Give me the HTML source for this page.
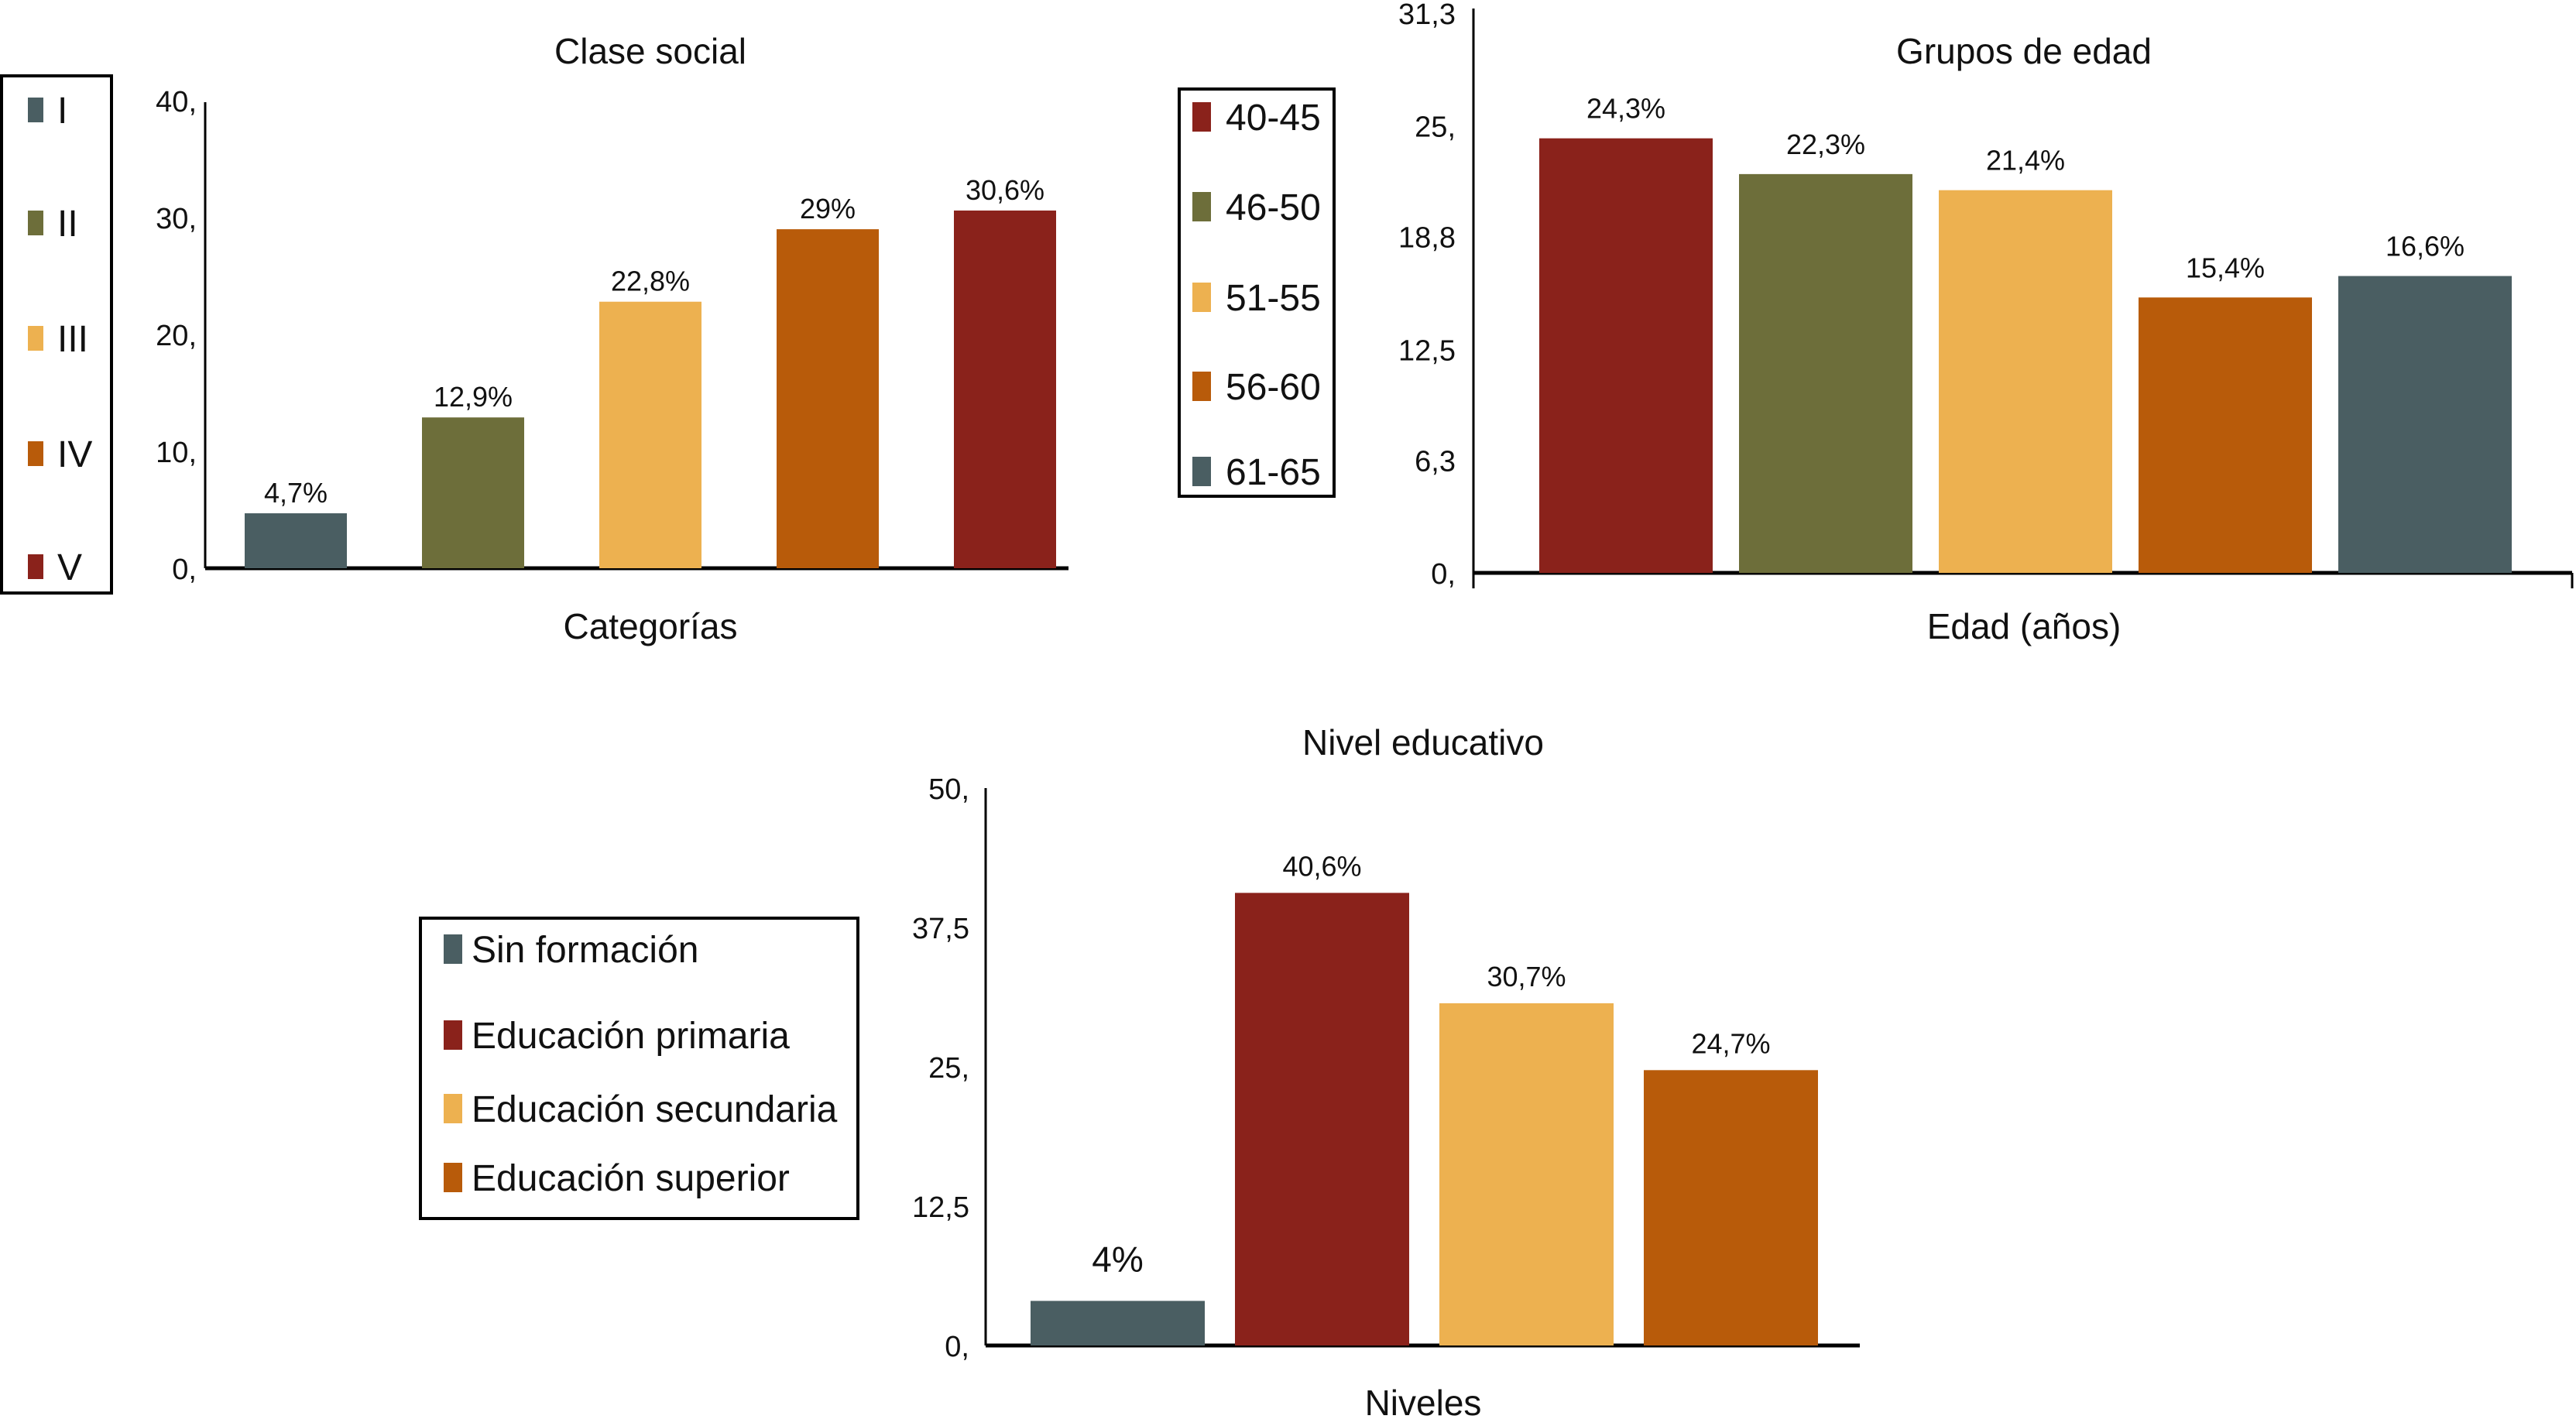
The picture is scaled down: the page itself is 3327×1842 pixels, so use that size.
<!DOCTYPE html>
<html><head><meta charset="utf-8"><style>
html,body{margin:0;padding:0;background:#fff;}
svg{display:block;font-family:"Liberation Sans",sans-serif;}
</style></head><body>
<svg id="s" width="3327" height="1842" viewBox="0 0 3327 1842" xmlns="http://www.w3.org/2000/svg"></svg>
<script>
const C = {slate:'#4a5e62', olive:'#6d6e3a', yellow:'#edb150', orange:'#b85b0a', red:'#8a221b'};
// Chart 1: Clase social
const c1Cats = ['I','II','III','IV','V'];
const c1Vals = [4.7,12.9,22.8,29,30.6];
const c1Labels = ['4,7%','12,9%','22,8%','29%','30,6%'];
const c1Ticks = [0,10,20,30,40];
const c1TickLabels = ['0,','10,','20,','30,','40,'];
// Chart 2: Grupos de edad
const c2Cats = ['40-45','46-50','51-55','56-60','61-65'];
const c2Vals = [24.3,22.3,21.4,15.4,16.6];
const c2Labels = ['24,3%','22,3%','21,4%','15,4%','16,6%'];
const c2Ticks = [0,6.3,12.5,18.8,25,31.3];
const c2TickLabels = ['0,','6,3','12,5','18,8','25,','31,3'];
// Chart 3: Nivel educativo
const c3Cats = ['Sin formación','Educación primaria','Educación secundaria','Educación superior'];
const c3Vals = [4,40.6,30.7,24.7];
const c3Labels = ['4%','40,6%','30,7%','24,7%'];
const c3Ticks = [0,12.5,25,37.5,50];
const c3TickLabels = ['0,','12,5','25,','37,5','50,'];

const svg = document.getElementById('s');
const NS = 'http://www.w3.org/2000/svg';
function mk(tag, attrs, parent){
  const e = document.createElementNS(NS, tag);
  for (const k in attrs) e.setAttribute(k, attrs[k]);
  (parent||svg).appendChild(e);
  return e;
}
function txt(x,y,s,size,anchor,parent){
  const t = mk('text',{x:x,y:y,'font-size':size,'text-anchor':anchor||'middle',fill:'#111'},parent);
  t.textContent = s;
  return t;
}

function chart(o){
  const g = mk('g',{});
  
  
  const y = v => o.base - v*o.unit;
  const ya = mk('line',{x1:o.ax,y1:o.top,x2:o.ax,y2:o.base+o.tickDown,stroke:'#000','stroke-width':3},g);
  
  
  const xa = mk('line',{x1:o.ax,y1:o.base,x2:o.right,y2:o.base,stroke:'#000','stroke-width':5},g);
  
  
  if (o.rightTick){ mk('line',{x1:o.right,y1:o.base,x2:o.right,y2:o.base+o.tickDown,stroke:'#000','stroke-width':3},g); }
  o.ticks.forEach((v,i)=>{
    const t = txt(o.tickX, y(v)+14, o.tickLabels[i], 38, 'end', g);
    
    
  });
  o.vals.forEach((v,i)=>{
    const x = o.x0 + i*o.step;
    const r = mk('rect',{x:x,y:y(v),width:o.bw,height:o.base-y(v),fill:o.colors[i]},g);
    
    
    const big = o.labels[i].length <= 2;
    const t = txt(x+o.bw/2, y(v)-o.lblOff-(big?16:0), o.labels[i], big?46:36, 'middle', g);
    
    
  });
  const ti = txt(o.titleX, o.titleY, o.title, 46, 'middle', g);
  
  
  const xt = txt(o.titleX, o.xTitleY, o.xTitle, 46, 'middle', g);
  
  
  const L = o.legend;
  const lg = mk('g',{},g);
  
  
  mk('rect',{x:L.x,y:L.y,width:L.w,height:L.h,fill:'none',stroke:'#000','stroke-width':4},lg);
  L.items.forEach((it,i)=>{
    const cy = L.ys[i];
    const e = mk('g',{},lg);
    
    
    mk('rect',{x:L.sx,y:cy-L.sh/2,width:L.sw,height:L.sh,fill:it.c},e);
    txt(L.tx, cy+17, it.t, L.fs, 'start', e);
  });
}

chart({name:'clase-social-chart', cats:c1Cats, vals:c1Vals, labels:c1Labels, ticks:c1Ticks, tickLabels:c1TickLabels,
  colors:[C.slate,C.olive,C.yellow,C.orange,C.red],
  ax:265, top:132, base:734, right:1380, unit:15.1, tickDown:0, rightTick:false, tickX:254,
  x0:316, step:229, bw:132, lblOff:14,
  title:'Clase social', titleX:840, titleY:82, xTitle:'Categorías', xTitleY:825,
  legend:{x:2,y:98,w:142,h:668,sx:36,sw:20,sh:32,tx:74,fs:48,ys:[142,288,437,586,732],
    items:[{t:'I',c:C.slate},{t:'II',c:C.olive},{t:'III',c:C.yellow},{t:'IV',c:C.orange},{t:'V',c:C.red}]}
});

chart({name:'grupos-de-edad-chart', cats:c2Cats, vals:c2Vals, labels:c2Labels, ticks:c2Ticks, tickLabels:c2TickLabels,
  colors:[C.red,C.olive,C.yellow,C.orange,C.slate],
  ax:1903, top:11, base:740, right:3322, unit:23.1, tickDown:20, rightTick:true, tickX:1880,
  x0:1988, step:258, bw:224, lblOff:26,
  title:'Grupos de edad', titleX:2614, titleY:82, xTitle:'Edad (años)', xTitleY:825,
  legend:{x:1523,y:115,w:200,h:526,sx:1540,sw:24,sh:38,tx:1583,fs:48,ys:[151,267,384,499,609],
    items:[{t:'40-45',c:C.red},{t:'46-50',c:C.olive},{t:'51-55',c:C.yellow},{t:'56-60',c:C.orange},{t:'61-65',c:C.slate}]}
});

chart({name:'nivel-educativo-chart', cats:c3Cats, vals:c3Vals, labels:c3Labels, ticks:c3Ticks, tickLabels:c3TickLabels,
  colors:[C.slate,C.red,C.yellow,C.orange],
  ax:1273, top:1018, base:1738, right:2402, unit:14.4, tickDown:0, rightTick:false, tickX:1252,
  x0:1331, step:264, bw:225, lblOff:22,
  title:'Nivel educativo', titleX:1838, titleY:975, xTitle:'Niveles', xTitleY:1828,
  legend:{x:543,y:1186,w:565,h:388,sx:573,sw:24,sh:38,tx:609,fs:48,ys:[1226,1337,1432,1521],
    items:[{t:'Sin formación',c:C.slate},{t:'Educación primaria',c:C.red},{t:'Educación secundaria',c:C.yellow},{t:'Educación superior',c:C.orange}]}
});
</script>
</body></html>
